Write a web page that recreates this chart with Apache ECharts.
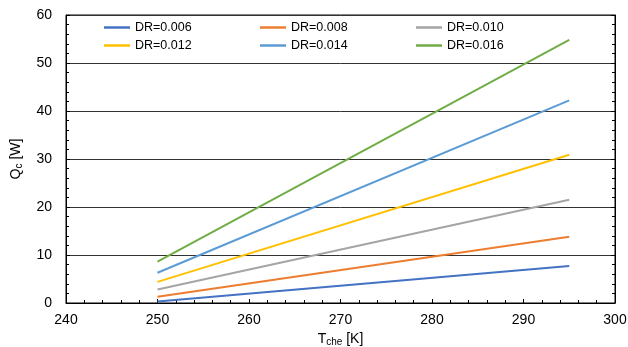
<!DOCTYPE html>
<html>
<head>
<meta charset="utf-8">
<script src="https://cdn.jsdelivr.net/npm/echarts@6/dist/echarts.min.js"></script>
<style>
  html, body { margin: 0; padding: 0; background: #fff; }
  #chart { width: 628px; height: 347px; }
</style>
</head>
<body>
<div id="chart"></div>
<script>
// temperature endpoints (K)
var tChe = [250, 295];

// Q_c [W] at each temperature
var dr006 = [0.3, 7.7];
var dr008 = [1.3, 13.8];
var dr010 = [2.8, 21.5];
var dr012 = [4.4, 30.9];
var dr014 = [6.3, 42.2];
var dr016 = [8.6, 54.8];

var seriesNames = ["DR=0.006", "DR=0.008", "DR=0.010", "DR=0.012", "DR=0.014", "DR=0.016"];
var seriesData = [dr006, dr008, dr010, dr012, dr014, dr016];
var colors = ["#4472C4", "#ED7D31", "#A5A5A5", "#FFC000", "#5B9BD5", "#70AD47"];

var FONT = "Liberation Sans";

function pairs(ys) {
  return ys.map(function (y, i) { return [tChe[i], y]; });
}

function legendCol(left, names) {
  return {
    left: left,
    top: 21,
    orient: "vertical",
    icon: "rect",
    itemWidth: 26,
    itemHeight: 2.5,
    itemGap: 5,
    padding: 0,
    textStyle: { fontFamily: FONT, fontSize: 12.5, color: "#000" },
    data: names
  };
}

var chart = echarts.init(document.getElementById("chart"));

var option = {
  animation: false,
  color: colors,
  textStyle: { fontFamily: FONT },
  grid: {
    left: 66, right: 13, top: 15, bottom: 44,
    outerBoundsMode: "none",
    show: true, borderColor: "#000", borderWidth: 1
  },
  legend: [
    legendCol(104, [seriesNames[0], seriesNames[3]]),
    legendCol(260, [seriesNames[1], seriesNames[4]]),
    legendCol(416, [seriesNames[2], seriesNames[5]])
  ],
  xAxis: {
    type: "value",
    min: 240, max: 300, interval: 10,
    name: "{a|T}{b|che}{a| [K]}",
    nameLocation: "middle",
    nameGap: 25,
    nameTextStyle: {
      rich: {
        a: { fontFamily: FONT, fontSize: 14, color: "#000" },
        b: { fontFamily: FONT, fontSize: 10, color: "#000", padding: [6, 0, 0, 0] }
      }
    },
    axisLine: { show: true, lineStyle: { color: "#000", width: 1 } },
    axisTick: { show: true, inside: true, length: 4, lineStyle: { color: "#000" } },
    minorTick: { show: true, splitNumber: 5, length: 3, lineStyle: { color: "#000" } },
    axisLabel: { fontFamily: FONT, fontSize: 14, color: "#000", margin: 10 },
    splitLine: { show: false }
  },
  yAxis: [
    {
      type: "value",
      min: 0, max: 60, interval: 10,
      name: "{a|Q}{b|c}{a| [W]}",
      nameLocation: "middle",
      nameGap: 42,
      nameTextStyle: {
        rich: {
          a: { fontFamily: FONT, fontSize: 14, color: "#000" },
          b: { fontFamily: FONT, fontSize: 10, color: "#000", padding: [6, 0, 0, 0] }
        }
      },
      axisLine: { show: true, lineStyle: { color: "#000", width: 1 } },
      axisTick: { show: true, inside: true, length: 4, lineStyle: { color: "#000" } },
      minorTick: { show: true, splitNumber: 5, length: 3, lineStyle: { color: "#000" } },
      axisLabel: { fontFamily: FONT, fontSize: 14, color: "#000", margin: 14 },
      splitLine: { show: true, lineStyle: { color: "#333", width: 1 } }
    },
    {
      type: "value",
      position: "right",
      min: 0, max: 60, interval: 10,
      axisLine: { show: true, lineStyle: { color: "#000", width: 1 } },
      axisTick: { show: true, inside: true, length: 4, lineStyle: { color: "#000" } },
      minorTick: { show: true, splitNumber: 5, length: 3, lineStyle: { color: "#000" } },
      axisLabel: { show: false },
      splitLine: { show: false }
    }
  ],
  series: seriesNames.map(function (name, i) {
    return {
      name: name,
      type: "line",
      data: pairs(seriesData[i]),
      showSymbol: false,
      symbol: "none",
      lineStyle: { width: 2, color: colors[i] },
      itemStyle: { color: colors[i] }
    };
  })
};

chart.setOption(option);
</script>
</body>
</html>
